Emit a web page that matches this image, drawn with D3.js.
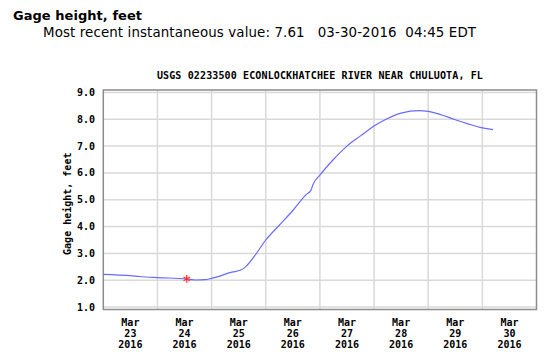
<!DOCTYPE html>
<html>
<head>
<meta charset="utf-8">
<script src="https://cdn.jsdelivr.net/npm/d3@7"></script>
<style>
  body { margin: 0; background: #fff; }
  text { white-space: pre; }
</style>
</head>
<body>
<div id="chart"></div>
<script>
// Gage height readings (EDT)
const times = [
  "2016-03-23 00:00", "2016-03-23 12:00", "2016-03-23 16:00", "2016-03-24 00:00",
  "2016-03-24 13:00", "2016-03-24 17:00", "2016-03-24 21:00", "2016-03-25 00:00",
  "2016-03-25 09:00", "2016-03-25 13:00", "2016-03-25 15:00", "2016-03-25 19:00",
  "2016-03-26 00:00", "2016-03-26 06:00", "2016-03-26 12:00", "2016-03-26 18:00",
  "2016-03-26 20:00", "2016-03-26 21:00", "2016-03-27 00:00", "2016-03-27 06:00",
  "2016-03-27 12:00", "2016-03-27 18:00", "2016-03-28 00:00", "2016-03-28 06:00",
  "2016-03-28 12:00", "2016-03-28 20:00", "2016-03-29 00:00", "2016-03-29 06:00",
  "2016-03-29 12:00", "2016-03-29 18:00", "2016-03-30 00:00", "2016-03-30 04:45"
];
const heights = [
  2.22, 2.17, 2.14, 2.10,
  2.05, 2.01, 2.02, 2.07,
  2.30, 2.38, 2.50, 2.90,
  3.50, 4.05, 4.60, 5.20,
  5.35, 5.58, 5.92, 6.50,
  7.00, 7.38, 7.75, 8.03,
  8.23, 8.32, 8.29, 8.16,
  7.98, 7.82, 7.68, 7.61
];
// red marker
const markTime = "2016-03-24 13:00";
const markValue = 2.05;

const yTicks = [1, 2, 3, 4, 5, 6, 7, 8, 9];
const dayLabels = ["23", "24", "25", "26", "27", "28", "29", "30"];

const title = "Gage height, feet";
const subtitle = "Most recent instantaneous value: 7.61   03-30-2016  04:45 EDT";
const chartTitle = "USGS 02233500 ECONLOCKHATCHEE RIVER NEAR CHULUOTA, FL";
const yLabel = "Gage height, feet";

const width = 550, height = 352;
const parse = d3.utcParse("%Y-%m-%d %H:%M");
const data = times.map((t, i) => ({ t: parse(t), v: heights[i] }));

const svg = d3.select("#chart").append("svg")
    .attr("width", width)
    .attr("height", height);

svg.append("rect").attr("width", width).attr("height", height).attr("fill", "#fff");

const plot = { left: 103.3, right: 536.5, top: 90, bottom: 309.5 };

const x = d3.scaleUtc()
    .domain([parse("2016-03-23 00:00"), parse("2016-03-31 00:00")])
    .range([plot.left, plot.right]);

const y = d3.scaleLinear()
    .domain([0.91, 9.09])
    .range([plot.bottom, plot.top]);

const mono = "'DejaVu Sans Mono', monospace";

// headers
svg.append("text")
    .attr("x", 13).attr("y", 19.5)
    .attr("font-family", "'DejaVu Sans', Verdana, sans-serif")
    .attr("font-weight", "bold")
    .attr("font-size", 13)
    .attr("textLength", 129)
    .text(title);

svg.append("text")
    .attr("x", 43).attr("y", 37)
    .attr("font-family", "'DejaVu Sans', Verdana, sans-serif")
    .attr("font-size", 13.4)
    .attr("textLength", 433)
    .text(subtitle);

svg.append("text")
    .attr("x", (plot.left + plot.right) / 2).attr("y", 78.5)
    .attr("text-anchor", "middle")
    .attr("font-family", mono)
    .attr("font-weight", "bold")
    .attr("font-size", 10)
    .attr("textLength", 326)
    .text(chartTitle);

// grid
const days = x.ticks(d3.utcDay.every(1));
svg.append("g")
    .selectAll("line")
    .data(days.slice(1, -1))
    .join("line")
    .attr("x1", d => x(d)).attr("x2", d => x(d))
    .attr("y1", plot.top).attr("y2", plot.bottom)
    .attr("stroke", "#d9d9d9")
    .attr("stroke-width", 1.5);

svg.append("g")
    .selectAll("line")
    .data(yTicks)
    .join("line")
    .attr("x1", plot.left).attr("x2", plot.right)
    .attr("y1", d => y(d)).attr("y2", d => y(d))
    .attr("stroke", "#d9d9d9")
    .attr("stroke-width", 1.5);

// frame
svg.append("rect")
    .attr("x", plot.left).attr("y", plot.top)
    .attr("width", plot.right - plot.left)
    .attr("height", plot.bottom - plot.top)
    .attr("fill", "none")
    .attr("stroke", "#8c8c8c")
    .attr("stroke-width", 1.5);

// y tick labels
svg.append("g")
    .selectAll("text")
    .data(yTicks)
    .join("text")
    .attr("x", 95).attr("y", d => y(d) + 3.5)
    .attr("text-anchor", "end")
    .attr("font-family", mono)
    .attr("font-weight", "bold")
    .attr("font-size", 10)
    .text(d3.format(".1f"));

svg.append("text")
    .attr("transform", `translate(70.5,${(plot.top + plot.bottom) / 2 + 4}) rotate(-90)`)
    .attr("text-anchor", "middle")
    .attr("font-family", mono)
    .attr("font-weight", "bold")
    .attr("font-size", 10)
    .text(yLabel);

// x tick labels at mid-day
const xl = svg.append("g")
    .selectAll("g")
    .data(days.slice(0, -1))
    .join("g")
    .attr("transform", d => `translate(${x(d3.utcHour.offset(d, 12))},0)`)
    .attr("font-family", mono)
    .attr("font-weight", "bold")
    .attr("font-size", 10)
    .attr("text-anchor", "middle");

xl.append("text").attr("y", 325.5).text("Mar");
xl.append("text").attr("y", 336.5).text((d, i) => dayLabels[i]);
xl.append("text").attr("y", 347.5).text(d => d3.utcFormat("%Y")(d));

// line
const line = d3.line()
    .x(d => x(d.t))
    .y(d => y(d.v))
    .curve(d3.curveMonotoneX);

svg.append("path")
    .datum(data)
    .attr("fill", "none")
    .attr("stroke", "#6a6aff")
    .attr("stroke-width", 1.2)
    .attr("d", line);

// marker
svg.append("path")
    .attr("transform", `translate(${x(parse(markTime))},${y(markValue)})`)
    .attr("d", d3.symbol(d3.symbolAsterisk, 40)())
    .attr("fill", "none")
    .attr("stroke", "#ff3030")
    .attr("stroke-width", 1.3);
</script>
</body>
</html>
